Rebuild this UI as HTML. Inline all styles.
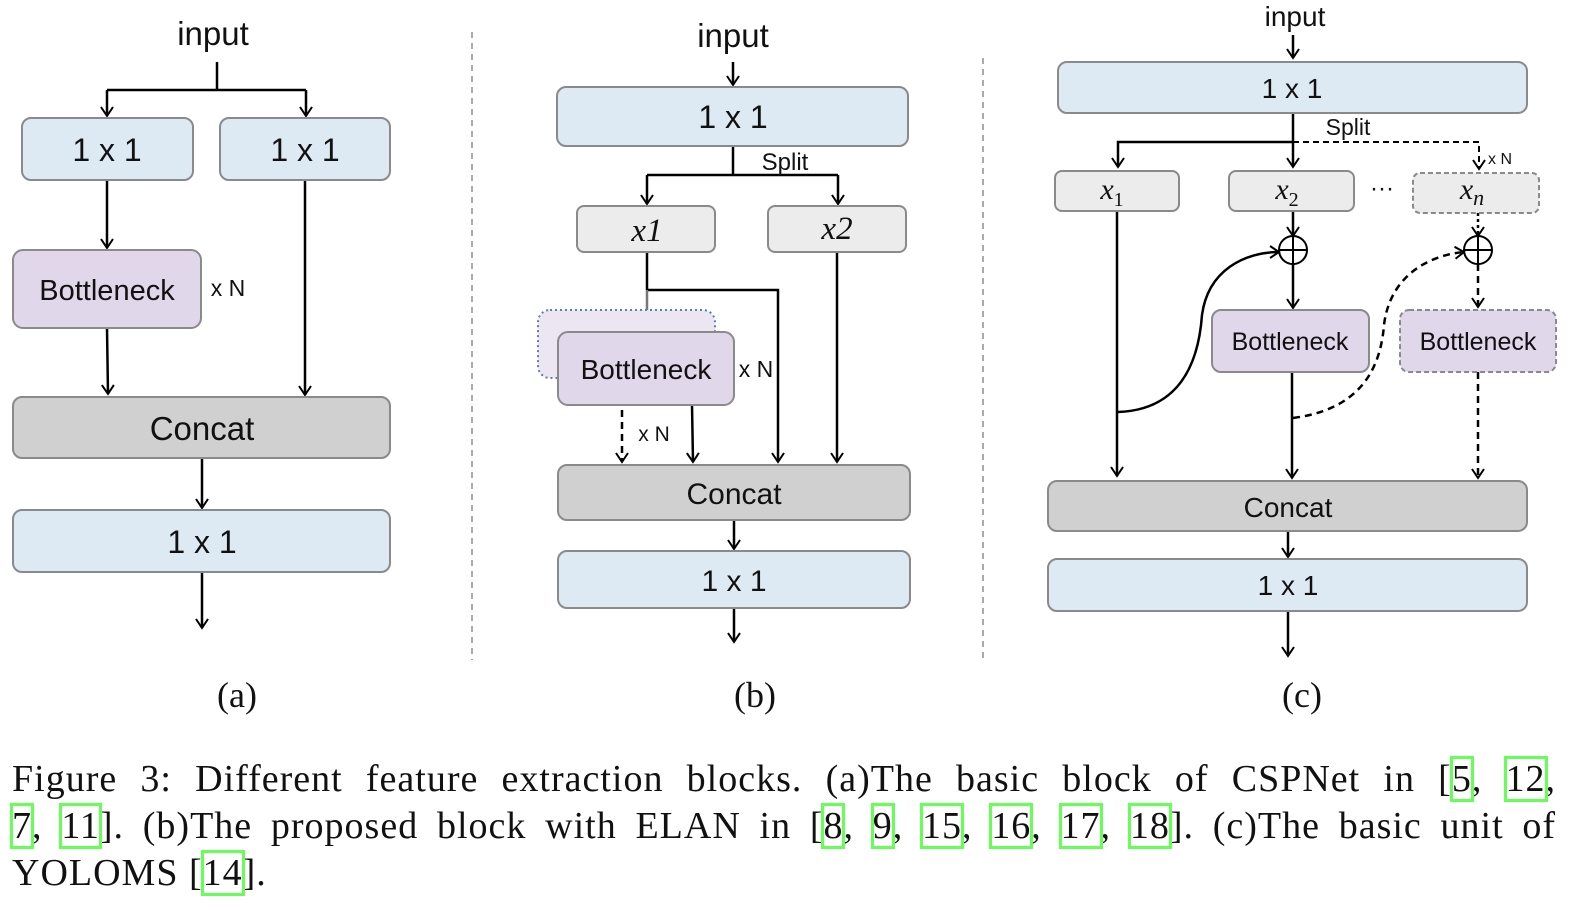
<!DOCTYPE html>
<html><head><meta charset="utf-8"><style>
body{margin:0;background:#fff;width:1577px;height:906px;overflow:hidden;position:relative}
.cap{position:absolute;left:12px;width:1544px;font-family:"Liberation Serif",serif;font-size:38px;letter-spacing:1px;line-height:47px;white-space:nowrap;color:#111}
.j{text-align:justify;text-align-last:justify}
.c{outline:3px solid #66ff55;outline-offset:-1px}
</style></head><body>
<svg width="1577" height="906" style="position:absolute;left:0;top:0" font-family="Liberation Sans, DejaVu Sans, sans-serif">
<defs>
<marker id="a" markerWidth="16" markerHeight="16" refX="13" refY="8" orient="auto" markerUnits="userSpaceOnUse"><path d="M4,2 L13,8 L4,14" fill="none" stroke="#000" stroke-width="2"/></marker>
<marker id="g" markerWidth="16" markerHeight="16" refX="13" refY="8" orient="auto" markerUnits="userSpaceOnUse"><path d="M4,2 L13,8 L4,14" fill="none" stroke="#777" stroke-width="2"/></marker>
<marker id="s" markerWidth="16" markerHeight="16" refX="13" refY="8" orient="auto" markerUnits="userSpaceOnUse"><path d="M4,2 L13,8 L4,14" fill="none" stroke="#000" stroke-width="2"/></marker>
</defs>
<g stroke="#aaa" stroke-width="2" stroke-dasharray="6,5"><line x1="472" y1="32" x2="472" y2="660"/><line x1="983" y1="58" x2="983" y2="660"/></g>
<g stroke="#000" stroke-width="2.5" fill="none">
<polyline points="217,62 217,90"/><polyline points="107,90 306,90"/>
<line x1="107" y1="90" x2="107" y2="116" marker-end="url(#a)"/><line x1="306" y1="90" x2="306" y2="116" marker-end="url(#a)"/>
<line x1="107" y1="180" x2="107" y2="248" marker-end="url(#a)"/><line x1="305" y1="180" x2="305" y2="395" marker-end="url(#a)"/>
<line x1="107" y1="328" x2="108" y2="394" marker-end="url(#a)"/>
<line x1="202" y1="458" x2="202" y2="508" marker-end="url(#a)"/>
<line x1="202" y1="572" x2="202" y2="628" marker-end="url(#a)"/>
<line x1="733" y1="62" x2="733" y2="85" marker-end="url(#a)"/>
<line x1="733" y1="146" x2="733" y2="175"/><line x1="647" y1="175" x2="838" y2="175"/>
<line x1="647" y1="175" x2="647" y2="204" marker-end="url(#a)"/><line x1="838" y1="175" x2="838" y2="204" marker-end="url(#a)"/>
<line x1="647" y1="252" x2="647" y2="290"/>
<polyline points="647,290 778,290 778,462" marker-end="url(#a)"/>
<line x1="837" y1="252" x2="837" y2="462" marker-end="url(#a)"/>
<line x1="692" y1="405" x2="693" y2="462" marker-end="url(#a)"/>
<line x1="622" y1="410" x2="622" y2="462" stroke-dasharray="7,5" marker-end="url(#a)"/>
<line x1="734" y1="520" x2="734" y2="549" marker-end="url(#a)"/>
<line x1="734" y1="608" x2="734" y2="642" marker-end="url(#a)"/>
<line x1="1293" y1="35" x2="1293" y2="58" marker-end="url(#a)"/>
<line x1="1293" y1="113" x2="1293" y2="167" marker-end="url(#a)"/>
<polyline points="1293,142 1118,142 1118,167" marker-end="url(#a)"/>
<polyline points="1293,142 1479,142 1479,169" stroke-dasharray="6,4" stroke-width="2" marker-end="url(#a)"/>
<line x1="1117" y1="211" x2="1117" y2="476" marker-end="url(#a)"/>
<line x1="1293" y1="211" x2="1293" y2="236" marker-end="url(#a)"/>
<line x1="1293" y1="264" x2="1293" y2="308" marker-end="url(#a)"/>
<line x1="1292" y1="372" x2="1292" y2="478" marker-end="url(#a)"/>
<path d="M1118,412 C1175,410 1198,370 1202,315 C1208,270 1245,252 1279,252" marker-end="url(#s)"/>
<path d="M1293,418 C1355,410 1380,375 1384,325 C1390,275 1430,255 1464,252" stroke-dasharray="7,5" marker-end="url(#s)"/>
<line x1="1478" y1="213" x2="1478" y2="236" stroke-dasharray="3,3" marker-end="url(#a)"/>
<line x1="1478" y1="264" x2="1478" y2="307" stroke-dasharray="7,5" marker-end="url(#a)"/>
<line x1="1478" y1="372" x2="1478" y2="478" stroke-dasharray="7,5" marker-end="url(#a)"/>
<line x1="1288" y1="531" x2="1288" y2="557" marker-end="url(#a)"/>
<line x1="1288" y1="611" x2="1288" y2="656" marker-end="url(#a)"/>
</g>
<line x1="647" y1="290" x2="647" y2="330" stroke="#777" stroke-width="2.5" marker-end="url(#g)"/>
<g stroke="#8a8a8a" stroke-width="2">
<rect x="22" y="118" width="171" height="62" rx="9" fill="#deeaf3"/>
<rect x="220" y="118" width="170" height="62" rx="9" fill="#deeaf3"/>
<rect x="13" y="250" width="188" height="78" rx="10" fill="#e0d7ea"/>
<rect x="13" y="397" width="377" height="61" rx="9" fill="#d0d0d0"/>
<rect x="13" y="510" width="377" height="62" rx="9" fill="#deeaf3"/>
<rect x="557" y="87" width="351" height="59" rx="9" fill="#deeaf3"/>
<rect x="577" y="206" width="138" height="46" rx="7" fill="#ececec"/>
<rect x="768" y="206" width="138" height="46" rx="7" fill="#ececec"/>
<rect x="538" y="310" width="177" height="68" rx="12" fill="#ece6f3" stroke="#5b7fa8" stroke-dasharray="2,3"/>
<rect x="558" y="332" width="176" height="73" rx="10" fill="#e0d7ea"/>
<rect x="558" y="465" width="352" height="55" rx="9" fill="#d0d0d0"/>
<rect x="558" y="551" width="352" height="57" rx="9" fill="#deeaf3"/>
<rect x="1058" y="62" width="469" height="51" rx="9" fill="#deeaf3"/>
<rect x="1055" y="171" width="124" height="40" rx="7" fill="#ececec"/>
<rect x="1229" y="171" width="125" height="40" rx="7" fill="#ececec"/>
<rect x="1413" y="173" width="126" height="40" rx="7" fill="#ececec" stroke-dasharray="5,3"/>
<rect x="1212" y="310" width="157" height="62" rx="9" fill="#e0d7ea"/>
<rect x="1400" y="310" width="156" height="62" rx="9" fill="#e0d7ea" stroke-dasharray="5,3"/>
<rect x="1048" y="481" width="479" height="50" rx="9" fill="#d0d0d0"/>
<rect x="1048" y="559" width="479" height="52" rx="9" fill="#deeaf3"/>
</g>
<g stroke="#000" stroke-width="2" fill="none">
<circle cx="1293" cy="250" r="14"/><line x1="1279" y1="250" x2="1307" y2="250"/><line x1="1293" y1="236" x2="1293" y2="264"/>
<circle cx="1478" cy="250" r="14"/><line x1="1464" y1="250" x2="1492" y2="250"/><line x1="1478" y1="236" x2="1478" y2="264"/>
</g>
<g fill="#111" text-anchor="middle">
<text x="213" y="45" font-size="33">input</text>
<text x="107" y="161" font-size="32">1 x 1</text><text x="305" y="161" font-size="32">1 x 1</text>
<text x="107" y="300" font-size="29">Bottleneck</text>
<text x="228" y="296" font-size="23">x N</text>
<text x="202" y="440" font-size="33">Concat</text>
<text x="202" y="553" font-size="32">1 x 1</text>
<text x="733" y="47" font-size="33">input</text>
<text x="733" y="128" font-size="32">1 x 1</text>
<text x="785" y="170" font-size="24">Split</text>
<text x="647" y="241" font-size="33" font-style="italic" font-family="Liberation Serif, serif">x1</text>
<text x="837" y="239" font-size="33" font-style="italic" font-family="Liberation Serif, serif">x2</text>
<text x="646" y="379" font-size="28">Bottleneck</text>
<text x="756" y="377" font-size="23">x N</text>
<text x="654" y="441" font-size="21">x N</text>
<text x="734" y="504" font-size="30">Concat</text>
<text x="734" y="591" font-size="30">1 x 1</text>
<text x="1295" y="26" font-size="28">input</text>
<text x="1292" y="98" font-size="28">1 x 1</text>
<text x="1348" y="135" font-size="23">Split</text>
<text x="1500" y="164" font-size="16">x N</text>
<text x="1112" y="199" font-size="30" font-style="italic" font-family="Liberation Serif, serif">x<tspan font-size="20" font-style="normal" dy="7">1</tspan></text>
<text x="1287" y="199" font-size="30" font-style="italic" font-family="Liberation Serif, serif">x<tspan font-size="20" font-style="normal" dy="7">2</tspan></text>
<text x="1382" y="196" font-size="24">···</text>
<text x="1472" y="199" font-size="30" font-style="italic" font-family="Liberation Serif, serif">x<tspan font-size="22" dy="6">n</tspan></text>
<text x="1290" y="350" font-size="25">Bottleneck</text>
<text x="1478" y="350" font-size="25">Bottleneck</text>
<text x="1288" y="517" font-size="28">Concat</text>
<text x="1288" y="595" font-size="28">1 x 1</text>
<g font-family="Liberation Serif, serif" font-size="36">
<text x="237" y="707">(a)</text><text x="755" y="707">(b)</text><text x="1302" y="707">(c)</text>
</g>
</g>
</svg>
<div class="cap j" style="top:756px">Figure 3: Different feature extraction blocks. (a)The basic block of CSPNet in [<span class="c">5</span>, <span class="c">12</span>,</div>
<div class="cap j" style="top:803px"><span class="c">7</span>, <span class="c">11</span>]. (b)The proposed block with ELAN in [<span class="c">8</span>, <span class="c">9</span>, <span class="c">15</span>, <span class="c">16</span>, <span class="c">17</span>, <span class="c">18</span>]. (c)The basic unit of</div>
<div class="cap" style="top:850px">YOLOMS [<span class="c">14</span>].</div>
</body></html>
